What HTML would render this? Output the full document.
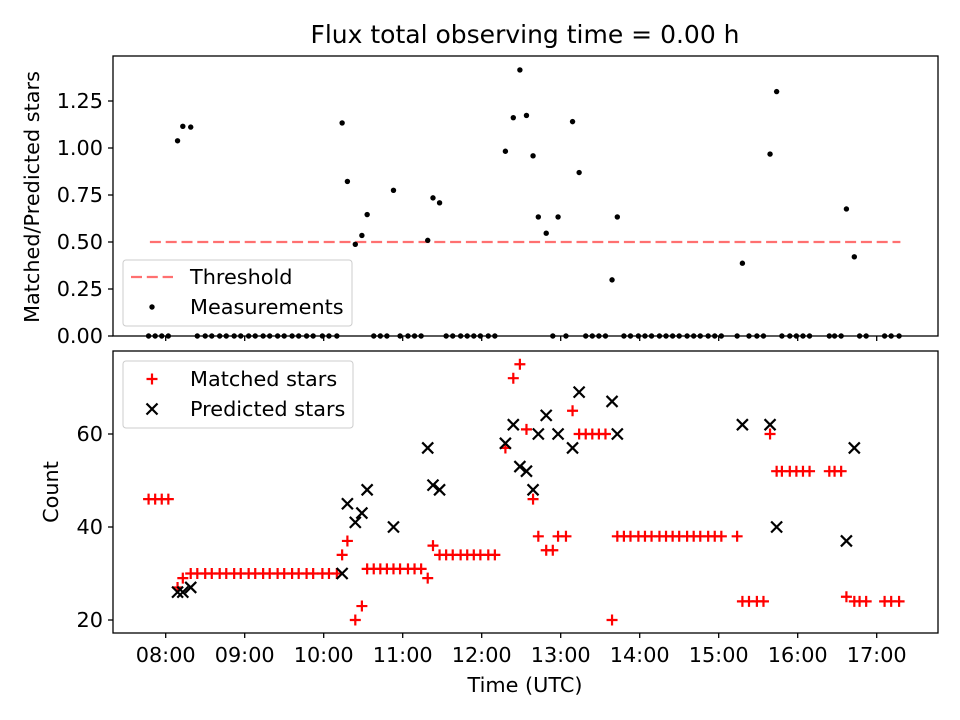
<!DOCTYPE html>
<html><head><meta charset="utf-8"><style>
body{margin:0;background:#fff}
svg{display:block;font-family:"DejaVu Sans","Liberation Sans",sans-serif}
</style></head><body>
<svg id="chart" width="960" height="720" viewBox="0 0 960 720"></svg>
<script>
const times=["07:47","07:52","07:57","08:02","08:09","08:13","08:19",
"08:24","08:30","08:35","08:41","08:46","08:52","08:57","09:03","09:08","09:14","09:19","09:25","09:30","09:36","09:41","09:47","09:52","09:59","10:04","10:10",
"10:14","10:18","10:24","10:29","10:33","10:38","10:43","10:48","10:53","10:58","11:04","11:09","11:14","11:19","11:23","11:28",
"11:33","11:38","11:44","11:49","11:54","11:59","12:05","12:10",
"12:18","12:24","12:29","12:34","12:39","12:43","12:49","12:54","12:58","13:04","13:09","13:14","13:19","13:24","13:29","13:34","13:39","13:43",
"13:48","13:53","13:59","14:04","14:09","14:15","14:20","14:25","14:30","14:36","14:41","14:46","14:52","14:57","15:02",
"15:14","15:18","15:23","15:29","15:34","15:39","15:44","15:48","15:54","15:59","16:04","16:09","16:24","16:28","16:33","16:37","16:43","16:47","16:52","17:06","17:11","17:17"];
const matched=[46,46,46,46,27,29,30,
30,30,30,30,30,30,30,30,30,30,30,30,30,30,30,30,30,30,30,30,
34,37,20,23,31,31,31,31,31,31,31,31,31,29,36,34,
34,34,34,34,34,34,34,34,
57,72,75,61,46,38,35,35,38,38,65,60,60,60,60,60,20,38,
38,38,38,38,38,38,38,38,38,38,38,38,38,38,38,
38,24,24,24,24,60,52,52,52,52,52,52,52,52,52,25,24,24,24,24,24,24];
const predicted=[null,null,null,null,26,26,27,
null,null,null,null,null,null,null,null,null,null,null,null,null,null,null,null,null,null,null,null,
30,45,41,43,48,null,null,null,40,null,null,null,null,57,49,48,
null,null,null,null,null,null,null,null,
58,62,53,52,48,60,64,null,60,null,57,69,null,null,null,null,67,60,
null,null,null,null,null,null,null,null,null,null,null,null,null,null,null,
null,62,null,null,null,62,40,null,null,null,null,null,null,null,null,37,57,null,null,null,null,null];
const threshold=0.5;
const topTicks=[0,0.25,0.5,0.75,1.0,1.25];
const botTicks=[20,40,60];
const xTicks=["08:00","09:00","10:00","11:00","12:00","13:00","14:00","15:00","16:00","17:00"];

const NS="http://www.w3.org/2000/svg";
const svg=document.getElementById('chart');
function el(tag,attrs,parent){const e=document.createElementNS(NS,tag);for(const k in attrs)e.setAttribute(k,attrs[k]);(parent||svg).appendChild(e);return e;}
function hrs(t){const p=t.split(':');return +p[0]+(+p[1])/60;}
const FS=20.8, TFS=25;
const L=113,R=938;
const x=h=>165.7+(h-8)*79;
const T0=56,T1=336; const yTop=v=>336-v*188;
const B0=351,B1=633; const yBot=v=>620-(v-20)*4.65;
const ratio=matched.map((m,i)=>predicted[i]?m/predicted[i]:0);

let t=el('text',{x:525,y:43,'text-anchor':'middle','font-size':TFS,fill:'#000'});t.textContent='Flux total observing time = 0.00 h';


const gT=el('g',{});
el('rect',{x:L,y:T0,width:R-L,height:T1-T0,fill:'#fff'},gT);
let th=el('line',{x1:x(7.8),x2:x(17.3),y1:yTop(threshold),y2:yTop(threshold),stroke:'#ff7070','stroke-width':2.2,'stroke-dasharray':'11,4.8'},gT);

times.forEach((tt,i)=>{const c=el('circle',{cx:x(hrs(tt)),cy:yTop(ratio[i]),r:2.7,fill:'#000'},gT);
});
el('rect',{x:L,y:T0,width:R-L,height:T1-T0,fill:'none',stroke:'#000','stroke-width':1.3},gT);
topTicks.forEach(v=>{const y=yTop(v);el('line',{x1:L-5,x2:L,y1:y,y2:y,stroke:'#000','stroke-width':1.3},gT);
const tx=el('text',{x:L-10,y:y+7,'text-anchor':'end','font-size':FS},gT);tx.textContent=v.toFixed(2);
});
xTicks.forEach(s=>{el('line',{x1:x(hrs(s)),x2:x(hrs(s)),y1:T1,y2:T1+5,stroke:'#000','stroke-width':1.3},gT);});
let yl=el('text',{transform:'translate(39,197) rotate(-90)','text-anchor':'middle','font-size':FS},gT);yl.textContent='Matched/Predicted stars';

const lg=el('g',{});
el('rect',{x:123,y:260,width:229,height:66,rx:3,fill:'#fff','fill-opacity':0.8,stroke:'#ccc'},lg);
el('line',{x1:131,x2:173,y1:277,y2:277,stroke:'#ff7070','stroke-width':2.2,'stroke-dasharray':'11,4.8'},lg);
let a=el('text',{x:190,y:284,'font-size':FS},lg);a.textContent='Threshold';
el('circle',{cx:152,cy:307,r:2.7,fill:'#000'},lg);
a=el('text',{x:190,y:314,'font-size':FS},lg);a.textContent='Measurements';

const gB=el('g',{});
el('rect',{x:L,y:B0,width:R-L,height:B1-B0,fill:'#fff'},gB);
times.forEach((tt,i)=>{const cx=x(hrs(tt)),cy=yBot(matched[i]);
const p=el('path',{d:`M${cx-5.5},${cy}H${cx+5.5}M${cx},${cy-5.5}V${cy+5.5}`,stroke:'#f00','stroke-width':2.2},gB);
});
times.forEach((tt,i)=>{if(predicted[i]==null)return;const cx=x(hrs(tt)),cy=yBot(predicted[i]);
const p=el('path',{d:`M${cx-5.5},${cy-5.5}L${cx+5.5},${cy+5.5}M${cx-5.5},${cy+5.5}L${cx+5.5},${cy-5.5}`,stroke:'#000','stroke-width':2.2},gB);
});
el('rect',{x:L,y:B0,width:R-L,height:B1-B0,fill:'none',stroke:'#000','stroke-width':1.3},gB);
botTicks.forEach(v=>{const y=yBot(v);el('line',{x1:L-5,x2:L,y1:y,y2:y,stroke:'#000','stroke-width':1.3},gB);
const tx=el('text',{x:L-10,y:y+7,'text-anchor':'end','font-size':FS},gB);tx.textContent=v;
});
xTicks.forEach(s=>{const xx=x(hrs(s));el('line',{x1:xx,x2:xx,y1:B1,y2:B1+5,stroke:'#000','stroke-width':1.3},gB);
const tx=el('text',{x:xx,y:B1+29,'text-anchor':'middle','font-size':FS},gB);tx.textContent=s;
});
yl=el('text',{transform:'translate(58,492) rotate(-90)','text-anchor':'middle','font-size':FS},gB);yl.textContent='Count';

let xl=el('text',{x:525,y:692,'text-anchor':'middle','font-size':FS},gB);xl.textContent='Time (UTC)';

const lg2=el('g',{});
el('rect',{x:123,y:361,width:230,height:67,rx:3,fill:'#fff','fill-opacity':0.8,stroke:'#ccc'},lg2);
el('path',{d:'M146.5,379H157.5M152,373.5V384.5',stroke:'#f00','stroke-width':2.2},lg2);
a=el('text',{x:190,y:386,'font-size':FS},lg2);a.textContent='Matched stars';
el('path',{d:'M146.5,403.5L157.5,414.5M146.5,414.5L157.5,403.5',stroke:'#000','stroke-width':2.2},lg2);
a=el('text',{x:190,y:416,'font-size':FS},lg2);a.textContent='Predicted stars';
</script>
</body></html>
